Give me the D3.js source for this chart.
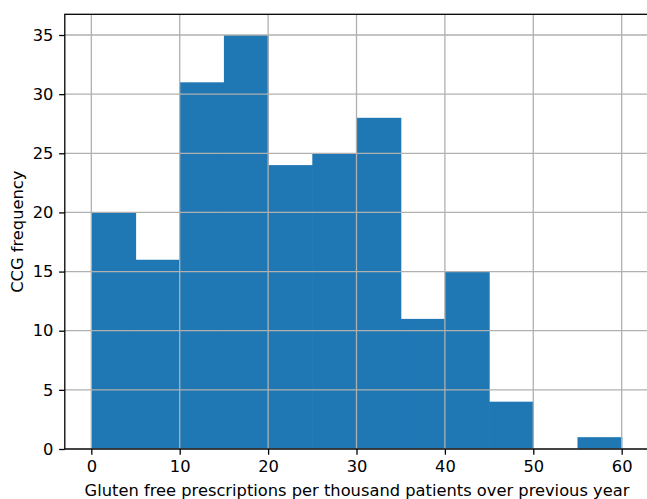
<!DOCTYPE html>
<html><head><meta charset="utf-8">
<script src="https://cdn.jsdelivr.net/npm/d3@7"></script>
<style>body{margin:0;background:#fff;overflow:hidden}svg{display:block}</style>
</head><body>
<script>
const binStarts = [0,5,10,15,20,25,30,35,40,45,50,55];
const binWidth = 5;
const counts = [20,16,31,35,24,25,28,11,15,4,0,1];
const xTicks = [0,10,20,30,40,50,60];
const yTicks = [0,5,10,15,20,25,30,35];
const xLabel = "Gluten free prescriptions per thousand patients over previous year";
const yLabel = "CCG frequency";

const W = 647, H = 499;
const L = 64.8, R = 648.2, T = 14.3, B = 449;
const fs = 16.3;
const tk = 5.7;
const svg = d3.select("body").append("svg").attr("width", W).attr("height", H);
const x = d3.scaleLinear().domain([-3, 63]).range([L, R]);
const y = d3.scaleLinear().domain([0, 36.75]).range([B, T]);

const g = svg.append("g");
g.selectAll("rect.bar").data(binStarts.map((s,i)=>({s, c:counts[i]})).filter(d=>d.c>0))
  .enter().append("rect")
  .attr("x", d=>x(d.s)).attr("width", d=>x(d.s+binWidth)-x(d.s) + 0.6)
  .attr("y", d=>y(d.c)).attr("height", d=>y(0)-y(d.c))
  .attr("fill", "#1f77b4");

// grid
g.selectAll("line.gx").data(xTicks).enter().append("line")
  .attr("x1", d=>x(d)).attr("x2", d=>x(d)).attr("y1", T).attr("y2", B)
  .attr("stroke", "#b0b0b0").attr("stroke-width", 1.3);
g.selectAll("line.gy").data(yTicks).enter().append("line")
  .attr("x1", L).attr("x2", R).attr("y1", d=>y(d)).attr("y2", d=>y(d))
  .attr("stroke", "#b0b0b0").attr("stroke-width", 1.3);

// axes
const xAxis = d3.axisBottom(x).tickValues(xTicks).tickSize(tk).tickPadding(tk).tickSizeOuter(0);
const yAxis = d3.axisLeft(y).tickValues(yTicks).tickSize(tk).tickPadding(tk).tickSizeOuter(0);
const ax = svg.append("g").attr("transform", `translate(0,${B})`).call(xAxis);
const ay = svg.append("g").attr("transform", `translate(${L},0)`).call(yAxis);
[ax, ay].forEach(a => {
  a.select(".domain").remove();
  a.selectAll("line").attr("stroke", "#000").attr("stroke-width", 1.3);
  a.selectAll("text").attr("font-family", "DejaVu Sans").attr("font-size", fs).attr("fill", "#000");
});

// spines
svg.append("rect").attr("x", L).attr("y", T).attr("width", R-L).attr("height", B-T)
  .attr("fill", "none").attr("stroke", "#000").attr("stroke-width", 1.3);

svg.append("text").attr("x", (L+R)/2 + 0.5).attr("y", 495.7)
  .attr("text-anchor", "middle").attr("font-family", "DejaVu Sans").attr("font-size", fs)
  .text(xLabel);
svg.append("text").attr("transform", `translate(23.3,${(T+B)/2}) rotate(-90)`)
  .attr("text-anchor", "middle").attr("font-family", "DejaVu Sans").attr("font-size", fs)
  .text(yLabel);
</script>
</body></html>
